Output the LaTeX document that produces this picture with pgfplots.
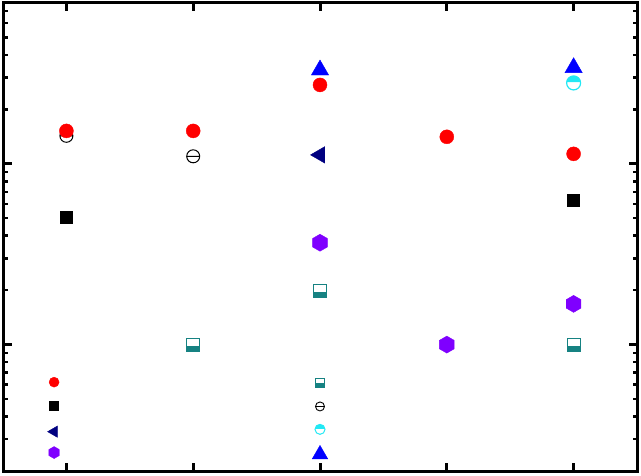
\documentclass[border=0pt]{standalone}
\usepackage{pgfplots}
\pgfplotsset{compat=1.18}
\definecolor{cnavy}{HTML}{000080}
\definecolor{cblue}{HTML}{0000FF}
\definecolor{cpurple}{HTML}{7F00FF}
\definecolor{cteal}{HTML}{168282}
\definecolor{ccyan}{HTML}{22E8F4}
\definecolor{cred}{HTML}{FF0000}
\pgfdeclareplotmark{ominus}{%
  \pgfpathcircle{\pgfpointorigin}{\pgfplotmarksize}
  \pgfpathmoveto{\pgfpoint{-\pgfplotmarksize}{0pt}}
  \pgfpathlineto{\pgfpoint{\pgfplotmarksize}{0pt}}
  \pgfusepathqstroke
}
\pgfdeclareplotmark{hsq}{%
  \pgfpathrectanglecorners{\pgfpoint{-\pgfplotmarksize}{-\pgfplotmarksize}}{\pgfpoint{\pgfplotmarksize}{-0.15\pgfplotmarksize}}
  \pgfusepathqfill
  \pgfpathrectanglecorners{\pgfpoint{-\pgfplotmarksize}{-\pgfplotmarksize}}{\pgfpoint{\pgfplotmarksize}{\pgfplotmarksize}}
  \pgfusepathqstroke
}
\pgfdeclareplotmark{hctop}{%
  \pgfpathmoveto{\pgfpoint{\pgfplotmarksize}{0.1\pgfplotmarksize}}
  \pgfpatharc{6}{174}{\pgfplotmarksize}
  \pgfpathclose
  \pgfusepathqfill
  \pgfpathcircle{\pgfpointorigin}{\pgfplotmarksize}
  \pgfusepathqstroke
}
\pgfdeclareplotmark{hex*}{%
  \pgfpathmoveto{\pgfpointpolar{90}{\pgfplotmarksize}}
  \pgfpathlineto{\pgfpointpolar{150}{\pgfplotmarksize}}
  \pgfpathlineto{\pgfpointpolar{210}{\pgfplotmarksize}}
  \pgfpathlineto{\pgfpointpolar{270}{\pgfplotmarksize}}
  \pgfpathlineto{\pgfpointpolar{330}{\pgfplotmarksize}}
  \pgfpathlineto{\pgfpointpolar{30}{\pgfplotmarksize}}
  \pgfpathclose
  \pgfusepathqfillstroke
}
\begin{document}
\begin{tikzpicture}
\begin{axis}[
  scale only axis, width=634pt, height=468pt,
  xmin=0.5, xmax=5.5, ymode=log, ymin=2, ymax=775,
  xtick={1,2,3,4,5}, xticklabels={}, yticklabels={},
  axis line style={line width=3pt},
  major tick length=8.5pt, minor tick length=4.5pt,
  major tick style={line width=3pt, black},
  minor tick style={line width=2.5pt, black},
  tick align=inside,
  clip=false,
]
% main data
\addplot[only marks, mark=ominus, mark size=6.5pt, black, line width=1pt] coordinates {(1,142.8) (2,110)};
\addplot[only marks, mark=*, mark size=7pt, cred, mark options={draw=cred, fill=cred}] coordinates {(1,152) (2,152) (3,273) (4,141) (5,113.5)};
\addplot[only marks, mark=square*, mark size=6pt, black] coordinates {(1,50.9) (5,62.5)};
\addplot[only marks, mark=triangle*, mark size=9.5pt, cnavy, mark options={rotate=90}] coordinates {(3,112)};
\addplot[only marks, mark=hex*, mark size=8.5pt, cpurple] coordinates {(3,36.6) (4,10) (5,16.8)};
\addplot[only marks, mark=hsq, mark size=6.5pt, cteal, line width=1.2pt, mark options={fill=cteal, draw=cteal}] coordinates {(2,10) (3,19.8) (5,10)};
\addplot[only marks, mark=hctop, mark size=7pt, ccyan, line width=1.2pt, mark options={fill=ccyan, draw=ccyan}] coordinates {(5,280)};
\addplot[only marks, mark=triangle*, mark size=10pt, cblue] coordinates {(3,330) (5,340)};
% legend-like markers (no text)
\addplot[only marks, mark=*, mark size=5pt, cred, mark options={draw=cred, fill=cred}] coordinates {(0.903,6.2)};
\addplot[only marks, mark=square*, mark size=4.5pt, black] coordinates {(0.903,4.6)};
\addplot[only marks, mark=triangle*, mark size=6.5pt, cnavy, mark options={rotate=90}] coordinates {(0.903,3.3)};
\addplot[only marks, mark=hex*, mark size=6pt, cpurple] coordinates {(0.903,2.53)};
\addplot[only marks, mark=hsq, mark size=4.7pt, cteal, line width=1pt, mark options={fill=cteal, draw=cteal}] coordinates {(3,6.15)};
\addplot[only marks, mark=ominus, mark size=4.5pt, black, line width=0.9pt] coordinates {(3,4.55)};
\addplot[only marks, mark=hctop, mark size=5pt, ccyan, line width=1pt, mark options={fill=ccyan, draw=ccyan}] coordinates {(3,3.4)};
\addplot[only marks, mark=triangle*, mark size=9pt, cblue] coordinates {(3,2.47)};
\end{axis}
\pgfresetboundingbox
\path ([shift={(-3pt,-4pt)}]current axis.south west) rectangle ([shift={(4pt,3pt)}]current axis.north east);
\end{tikzpicture}
\end{document}
